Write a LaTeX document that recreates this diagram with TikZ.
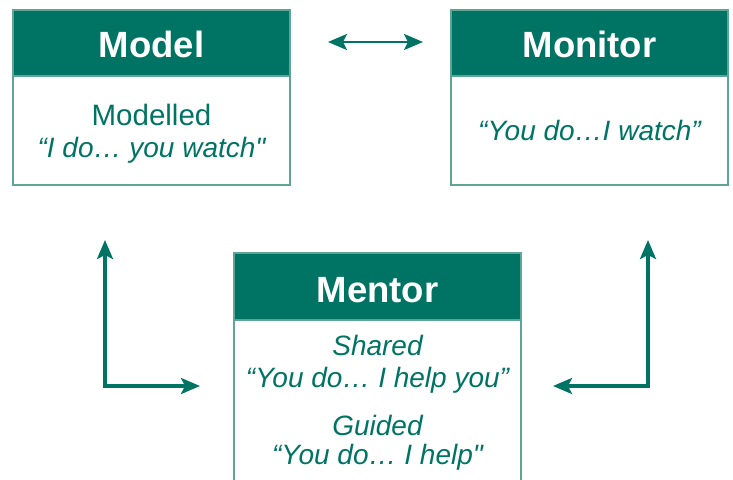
\documentclass[tikz,border=0pt]{standalone}
\usepackage{fontspec}
\setmainfont{Liberation Sans}
\newfontfamily\plainfont{Liberation Sans}
\newcommand\sqt{{\plainfont"}}
\usetikzlibrary{arrows.meta}
\definecolor{teal1}{RGB}{0,116,100}
\definecolor{edge1}{RGB}{95,165,150}
\begin{document}
\begin{tikzpicture}[x=1pt,y=-1pt,
  panel/.style={draw=edge1, line width=1.3pt, fill=white, anchor=north west, inner sep=0pt, outer sep=0pt},
  header/.style={draw=edge1, line width=1.3pt, fill=teal1, anchor=north west, inner sep=0pt, outer sep=0pt},
  title/.style={text=white, font=\fontsize{36.5}{40}\selectfont\bfseries, anchor=base, inner sep=0pt},
  body/.style={text=teal1, font=\fontsize{28}{32}\selectfont, anchor=base, inner sep=0pt},
  tip/.tip={Stealth[length=19pt,width=16pt,inset=4pt]},
  link/.style={draw=teal1, line width=3.2pt, line join=miter, tip-tip}]
\clip (0,0) rectangle (733,479);
% Model
\node[panel, minimum width=277pt, minimum height=175pt] (model) at (13,10) {};
\node[header, minimum width=277pt, minimum height=66pt] (modelh) at (13,10) {};
\node[title] (modelt) at (151.5,57) {Model};
\node[body, font=\fontsize{29.5}{32}\selectfont] (modelb1) at (151.5,125) {Modelled};
\node[body] (modelb2) at (151.5,157) {\itshape “I do… you watch\sqt};
% Monitor
\node[panel, minimum width=277pt, minimum height=175pt] (monitor) at (451,10) {};
\node[header, minimum width=277pt, minimum height=66pt] (monitorh) at (451,10) {};
\node[title] (monitort) at (589.5,57) {Monitor};
\node[body] (monitorb) at (589.5,140) {\itshape “You do…I watch”};
% Mentor
\node[panel, minimum width=287pt, minimum height=260pt] (mentor) at (234,253) {};
\node[header, minimum width=287pt, minimum height=67pt] (mentorh) at (234,253) {};
\node[title] (mentort) at (377.5,302) {Mentor};
\node[body] (mentorb1) at (377.5,355) {\itshape Shared};
\node[body] (mentorb2) at (377.5,387) {\itshape “You do… I help you”};
\node[body] (mentorb3) at (377.5,435) {\itshape Guided};
\node[body] (mentorb4) at (377.5,464) {\itshape “You do… I help\sqt};
% connectors
\coordinate (da) at (328,42);
\coordinate (db) at (423,42);
\draw[link, line width=2.6pt] (da) -- (db);
\coordinate (l1) at (200,386);
\coordinate (l2) at (105,240);
\draw[link] (l1) -| (l2);
\coordinate (r1) at (553,386);
\coordinate (r2) at (648,240);
\draw[link] (r1) -| (r2);
\end{tikzpicture}
\end{document}
